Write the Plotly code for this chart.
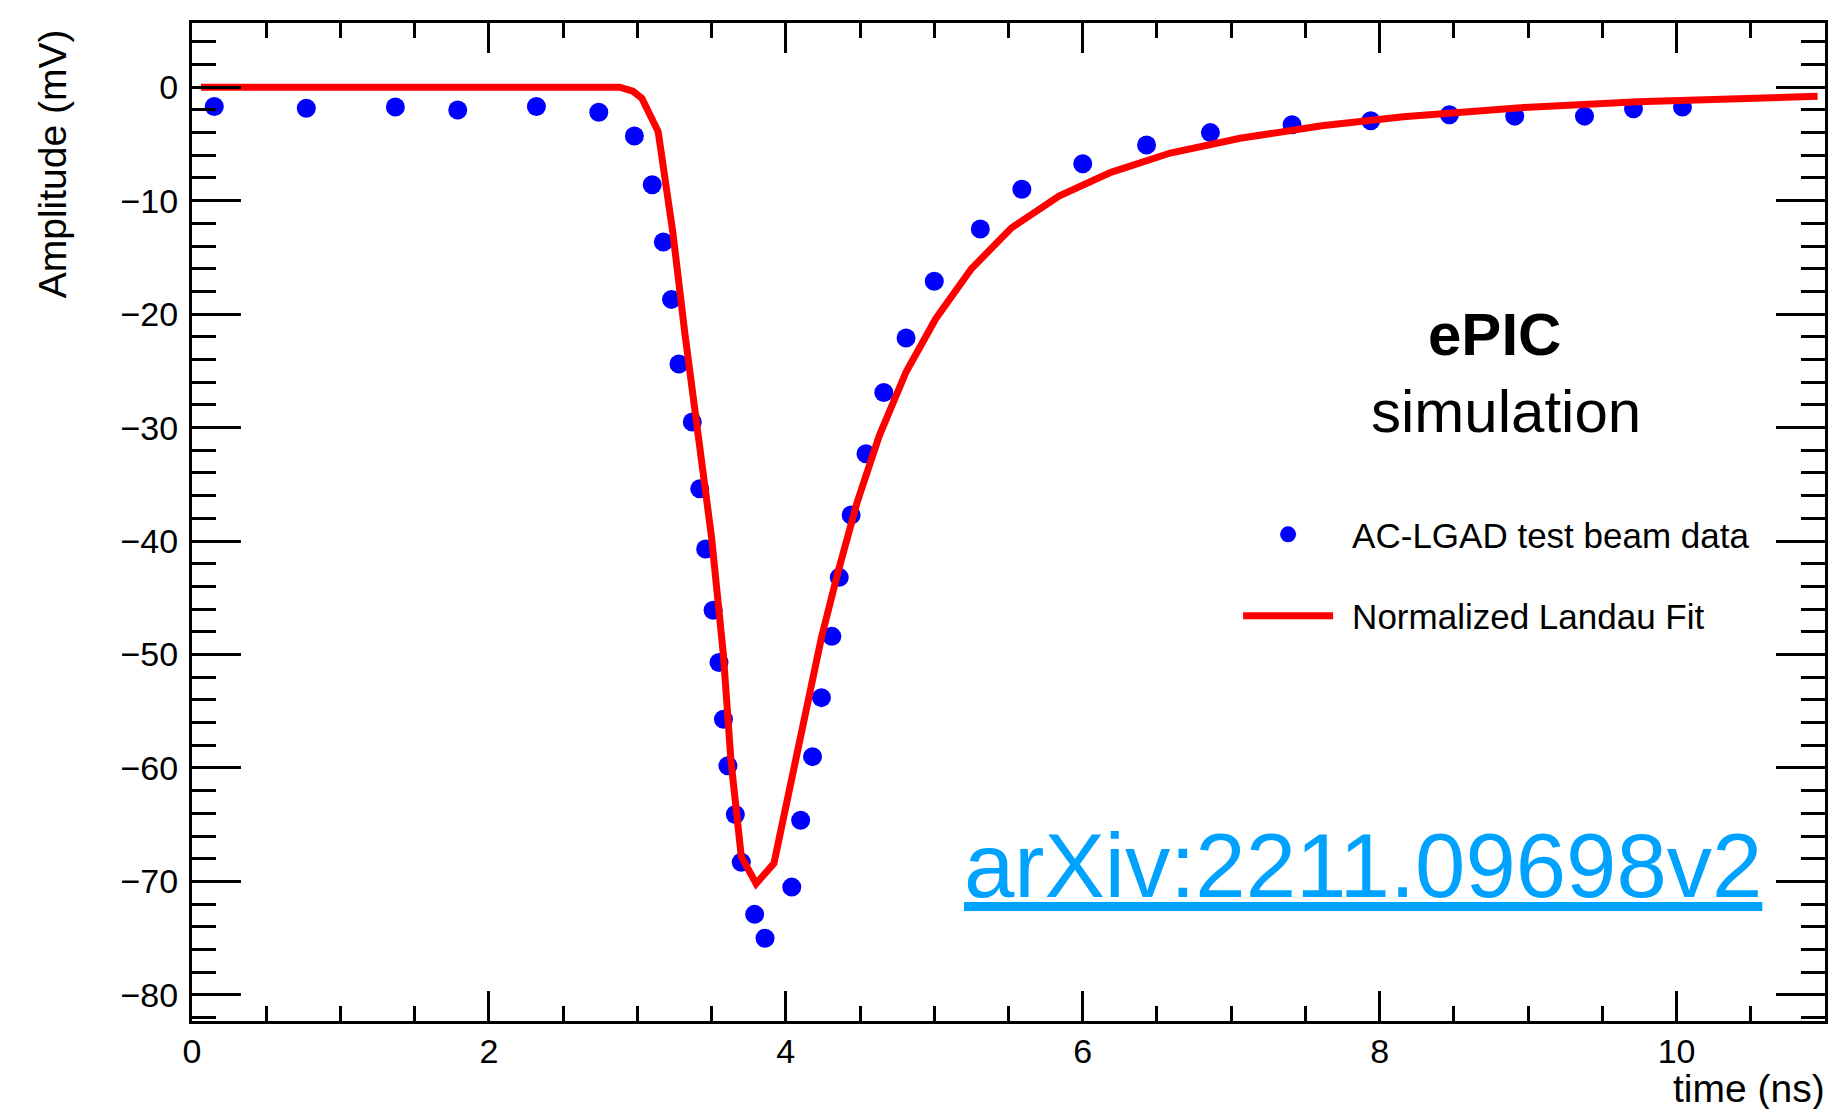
import plotly.graph_objects as go

# AC-LGAD test beam data (time in ns, amplitude in mV)
time_data = [0.15, 0.77, 1.37, 1.79, 2.32, 2.74, 2.98, 3.10, 3.175, 3.23, 3.28, 3.37, 3.42,
             3.46, 3.51, 3.55, 3.58, 3.61, 3.66, 3.70, 3.79, 3.86, 4.04, 4.10, 4.18, 4.24,
             4.31, 4.36, 4.44, 4.54, 4.66, 4.81, 5.00, 5.31, 5.59, 6.00, 6.43, 6.86, 7.41,
             7.94, 8.47, 8.91, 9.38, 9.71, 10.04]
amp_data = [-1.7, -1.85, -1.75, -2.0, -1.7, -2.2, -4.3, -8.6, -13.65, -18.7, -24.4, -29.5, -35.4,
            -40.7, -46.1, -50.7, -55.7, -59.8, -64.1, -68.3, -72.9, -75.0, -70.5, -64.6, -59.0, -53.8,
            -48.4, -43.2, -37.7, -32.3, -26.9, -22.1, -17.1, -12.5, -9.0, -6.75, -5.1, -4.0, -3.3,
            -2.95, -2.42, -2.55, -2.55, -1.9, -1.75]

# Normalized Landau fit curve
fit_time = [0.06, 2.88, 2.97, 3.03, 3.14, 3.24, 3.32, 3.41, 3.50, 3.58, 3.63, 3.70, 3.80,
            3.92, 4.00, 4.11, 4.24, 4.35, 4.48, 4.63, 4.81, 5.01, 5.25, 5.52, 5.84, 6.19,
            6.59, 7.06, 7.61, 8.16, 8.95, 9.74, 10.95]
fit_amp = [0.0, 0.0, -0.35, -0.97, -3.9, -12.9, -21.7, -30.5, -39.7, -50.1, -59.3, -67.8, -70.2,
           -68.4, -63.5, -56.2, -48.5, -42.8, -36.6, -30.7, -25.1, -20.4, -16.0, -12.4, -9.6, -7.5,
           -5.8, -4.5, -3.4, -2.6, -1.8, -1.28, -0.8]

FONT = "Liberation Sans, Arial, Helvetica, sans-serif"
PAD = "\u2009\u2009"

fig = go.Figure()
fig.add_trace(go.Scatter(
    x=time_data, y=amp_data, mode="markers", name=PAD + "AC-LGAD test beam data",
    marker=dict(color="#0000FF", size=19), legendgroup="data"))
fig.add_trace(go.Scatter(
    x=fit_time, y=fit_amp, mode="lines", name=PAD + "Normalized Landau Fit",
    line=dict(color="#FF0000", width=7), legendgroup="fit"))

axis_common = dict(
    showline=True, linecolor="black", linewidth=3, mirror="allticks",
    ticks="inside", tickcolor="black", tickwidth=2.5,
    showgrid=False, zeroline=False,
    tickfont=dict(family=FONT, size=34, color="black"),
)

fig.update_xaxes(range=[0, 11], dtick=2, tick0=0, ticklen=30,
                 minor=dict(dtick=0.5, ticklen=15, tickwidth=2.5, tickcolor="black",
                            ticks="inside", showgrid=False),
                 ticklabelstandoff=-2, **axis_common)
fig.update_yaxes(range=[-82.3, 5.66], dtick=10, tick0=0, ticklen=49,
                 minor=dict(dtick=2, ticklen=24, tickwidth=2.5, tickcolor="black",
                            ticks="inside", showgrid=False),
                 ticklabelstandoff=4, **axis_common)

annotations = [
    dict(text="Amplitude (mV)", textangle=-90, xref="paper", yref="paper",
         x=-0.0856, y=0.8587, xanchor="center", yanchor="middle", showarrow=False,
         font=dict(family=FONT, size=39, color="black")),
    dict(text="time (ns)", xref="paper", yref="paper",
         x=1.0012, y=-0.0675, xanchor="right", yanchor="middle", showarrow=False,
         font=dict(family=FONT, size=39, color="black")),
    dict(text="<b>ePIC</b>", xref="paper", yref="paper",
         x=0.7975, y=0.6874, xanchor="center", yanchor="middle", showarrow=False,
         font=dict(family=FONT, size=60, color="black")),
    dict(text="simulation", xref="paper", yref="paper",
         x=0.8044, y=0.6112, xanchor="center", yanchor="middle", showarrow=False,
         font=dict(family=FONT, size=60, color="black")),
    dict(text="<u>arXiv:2211.09698v2</u>", xref="paper", yref="paper",
         x=0.717, y=0.1563, xanchor="center", yanchor="middle", showarrow=False,
         font=dict(family=FONT, size=90.5, color="#00A2FF")),
]

fig.update_layout(
    width=1835, height=1109,
    margin=dict(l=192, r=7, t=23, b=88),
    paper_bgcolor="white", plot_bgcolor="white",
    showlegend=True,
    legend=dict(x=0.6406, y=0.517, xanchor="left", yanchor="top",
                font=dict(family=FONT, size=35, color="black"),
                itemwidth=90, tracegroupgap=33, bgcolor="rgba(0,0,0,0)",
                traceorder="grouped"),
    annotations=annotations,
)

fig.write_html("out.html",
               config={"displayModeBar": False},
               post_script="document.body.style.margin='0';document.body.style.padding='0';")
